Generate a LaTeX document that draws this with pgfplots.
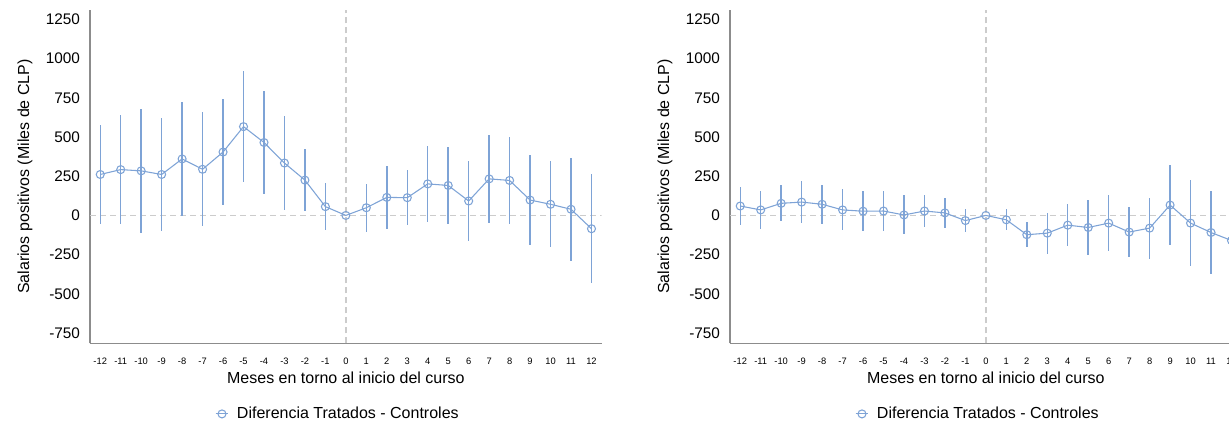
\documentclass[border=0pt]{standalone}
\usepackage{fontspec}
\setmainfont{Liberation Sans}
\usepackage{pgfplots}
\usepackage{pgfplotstable}
\pgfplotsset{compat=1.18}

\definecolor{azulserie}{RGB}{126,163,214}
\definecolor{ejes}{RGB}{140,140,140}
\definecolor{guia}{RGB}{204,204,204}

% mes, diferencia, semiancho del intervalo
\pgfplotstableread{
x y e
-12 261 316
-11 292 346
-10 284 397
-9 261 363
-8 360 365
-7 294 364
-6 404 336
-5 566 353
-4 465 331
-3 334 297
-2 225 200
-1 56 150
0 0 0
1 49 153
2 115 203
3 113 174
4 201 240
5 191 248
6 92 256
7 233 279
8 223 280
9 98 287
10 71 275
11 39 330
12 -85 348
}\izq

\pgfplotstableread{
x y e
-12 60 124
-11 35 119
-10 77 114
-9 85 136
-8 71 123
-7 35 131
-6 27 128
-5 28 128
-4 3 124
-3 28 105
-2 16 94
-1 -33 72
0 0 0
1 -28 66
2 -123 81
3 -113 131
4 -62 135
5 -77 174
6 -49 176
7 -106 161
8 -81 194
9 66 256
10 -49 274
11 -109 267
12 -160 300
}\der

\pgfplotsset{
  panel/.style={
    scale only axis, width=383.8pt, height=250pt,
    anchor=south west,
    xmin=-12.5, xmax=12.5, ymin=-815, ymax=1310,
    axis lines*=left,
    axis line style={ejes, line width=0.9pt},
    major tick length=0pt,
    xtick={-12,...,12},
    xticklabels={-12,-11,-10,-9,-8,-7,-6,-5,-4,-3,-2,-1,0,1,2,3,4,5,6,7,8,9,10,11,12},
    ytick={-750,-500,-250,0,250,500,750,1000,1250},
    yticklabels={-750,-500,-250,0,250,500,750,1000,1250},
    xticklabel style={font=\fontsize{7}{8}\selectfont, yshift=-7.7pt},
    yticklabel style={font=\fontsize{11.5}{13}\selectfont, xshift=-4pt},
    xlabel={Meses en torno al inicio del curso},
    ylabel={Salarios positivos (Miles de CLP)},
    label style={font=\fontsize{12}{14}\selectfont},
    xlabel style={at={(axis description cs:0.5,-0.104)}, anchor=center},
    ylabel style={at={(axis description cs:-0.127,0.5)}, anchor=center},
    legend style={at={(axis description cs:0.485,-0.212)}, anchor=center,
      draw=none, fill=none, font=\fontsize{12}{14}\selectfont},
    legend image code/.code={%
      \draw[mark repeat=2, mark phase=2, ##1]
        plot coordinates {(0cm,0cm) (0.17cm,0cm) (0.34cm,0cm)};},
  },
  ciserie/.style={
    azulserie, line width=0.8pt, mark=o, mark size=3pt,
    mark options={line width=0.8pt},
    error bars/.cd, y dir=both, y explicit, error mark=none,
    error bar style={azulserie, line width=1.1pt},
  },
}

\begin{document}
\begin{tikzpicture}
\useasboundingbox (0,0) rectangle (921.75pt,317.25pt);
\clip (0,0) rectangle (921.75pt,317.25pt);

\begin{axis}[panel, at={(67.5pt,59.8pt)}]
\draw[guia, line width=1pt, dash pattern=on 4.5pt off 3pt]
  (axis cs:-12.5,0) -- (axis cs:12.5,0);
\draw[guia, line width=1pt, dash pattern=on 4.5pt off 3pt]
  (axis cs:0,-815) -- (axis cs:0,1310);
\addplot[ciserie] table[x=x, y=y, y error=e] {\izq};
\addlegendentry{\hspace{4pt}Diferencia Tratados - Controles}
\end{axis}

\begin{axis}[panel, at={(547.5pt,59.8pt)}]
\draw[guia, line width=1pt, dash pattern=on 4.5pt off 3pt]
  (axis cs:-12.5,0) -- (axis cs:12.5,0);
\draw[guia, line width=1pt, dash pattern=on 4.5pt off 3pt]
  (axis cs:0,-815) -- (axis cs:0,1310);
\addplot[ciserie] table[x=x, y=y, y error=e] {\der};
\addlegendentry{\hspace{4pt}Diferencia Tratados - Controles}
\end{axis}
\end{tikzpicture}
\end{document}
